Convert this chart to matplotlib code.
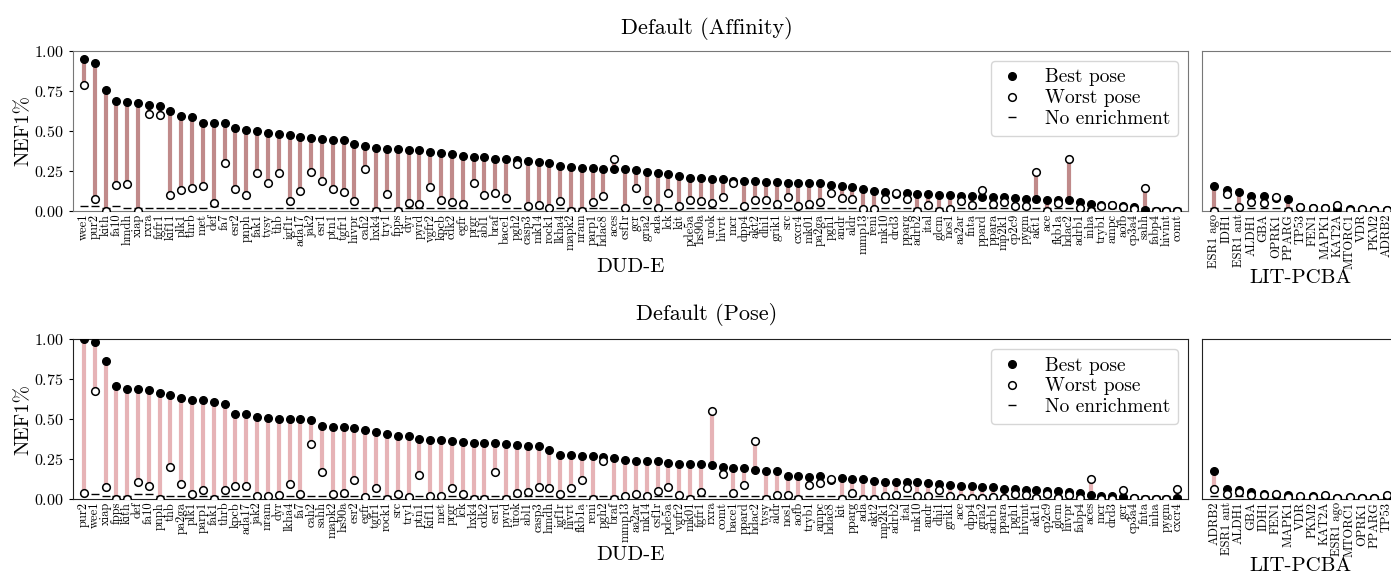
import matplotlib
matplotlib.use("Agg")
import matplotlib.pyplot as plt
from matplotlib.lines import Line2D
import numpy as np

plt.rcParams['font.family'] = 'serif'
plt.rcParams['font.serif'] = ['cmr10']
plt.rcParams['mathtext.fontset'] = 'cm'
plt.rcParams['axes.formatter.use_mathtext'] = True
plt.rcParams['axes.unicode_minus'] = False

# --- Default (Affinity) ---
aff_dude_targets = [
    "wee1", "pur2", "kith", "fa10", "hmdh", "xiap", "rxra", "fgfr1", "kif11", "plk1",
    "thrb", "met", "def", "fa7", "esr2", "pnph", "fak1", "tysy", "thb", "igf1r",
    "ada17", "jak2", "esr1", "ptn1", "tgfr1", "hivpr", "cah2", "hxk4", "try1", "fpps",
    "dyr", "pyrd", "vgfr2", "kpcb", "cdk2", "egfr", "prgr", "abl1", "braf", "bace1",
    "pgh2", "casp3", "mk14", "rock1", "lkha4", "mapk2", "nram", "parp1", "hdac8", "aces",
    "csf1r", "gcr", "gria2", "ada", "lck", "kit", "pde5a", "hs90a", "urok", "hivrt",
    "mcr", "dpp4", "akt2", "dhi1", "grik1", "src", "cxcr4", "mk01", "pa2ga", "pgh1",
    "andr", "aldr", "mmp13", "reni", "mk10", "drd3", "pparg", "adrb2", "ital", "glcm",
    "nos1", "aa2ar", "fnta", "ppard", "ppara", "mp2k1", "cp2c9", "pygm", "akt1", "ace",
    "fkb1a", "hdac2", "adrb1", "inha", "tryb1", "ampc", "aofb", "cp3a4", "sahh", "fabp4",
    "hivint", "comt"]
aff_dude_best = [
    0.952, 0.927, 0.758, 0.690, 0.683, 0.673, 0.663, 0.658, 0.627, 0.594,
    0.590, 0.552, 0.552, 0.548, 0.521, 0.506, 0.500, 0.485, 0.479, 0.477,
    0.463, 0.454, 0.452, 0.446, 0.442, 0.419, 0.408, 0.396, 0.390, 0.388,
    0.379, 0.379, 0.367, 0.363, 0.356, 0.346, 0.340, 0.340, 0.327, 0.323,
    0.319, 0.313, 0.306, 0.298, 0.281, 0.273, 0.271, 0.269, 0.265, 0.263,
    0.260, 0.256, 0.242, 0.235, 0.229, 0.217, 0.204, 0.204, 0.200, 0.198,
    0.190, 0.188, 0.185, 0.181, 0.181, 0.177, 0.175, 0.173, 0.173, 0.163,
    0.156, 0.152, 0.138, 0.127, 0.119, 0.108, 0.113, 0.108, 0.106, 0.102,
    0.098, 0.096, 0.096, 0.090, 0.088, 0.085, 0.079, 0.077, 0.073, 0.071,
    0.067, 0.067, 0.056, 0.045, 0.040, 0.035, 0.033, 0.023, 0.006, 0.0,
    0.0, 0.0]
aff_dude_worst = [
    0.790, 0.073, 0.0, 0.165, 0.169, 0.0, 0.606, 0.602, 0.100, 0.129,
    0.142, 0.158, 0.052, 0.298, 0.135, 0.098, 0.240, 0.175, 0.240, 0.063,
    0.123, 0.242, 0.185, 0.135, 0.117, 0.060, 0.260, 0.0, 0.106, 0.0,
    0.052, 0.046, 0.148, 0.069, 0.054, 0.046, 0.175, 0.102, 0.110, 0.083,
    0.294, 0.029, 0.040, 0.019, 0.065, 0.0, 0.0, 0.056, 0.096, 0.325,
    0.017, 0.146, 0.067, 0.019, 0.115, 0.029, 0.071, 0.060, 0.050, 0.085,
    0.173, 0.031, 0.071, 0.071, 0.044, 0.090, 0.029, 0.044, 0.056, 0.110,
    0.083, 0.075, 0.015, 0.015, 0.075, 0.112, 0.073, 0.0, 0.038, 0.0,
    0.015, 0.060, 0.040, 0.129, 0.046, 0.058, 0.029, 0.029, 0.246, 0.0,
    0.052, 0.325, 0.021, 0.0, 0.033, 0.035, 0.025, 0.015, 0.146, 0.0,
    0.0, 0.0]

aff_lit_targets = ["ESR1 ago", "IDH1", "ESR1 ant", "ALDH1", "GBA", "OPRK1", "PPARG", "TP53",
                   "FEN1", "MAPK1", "KAT2A", "MTORC1", "VDR", "PKM2", "ADRB2"]
aff_lit_best = [0.156, 0.129, 0.121, 0.096, 0.092, 0.080, 0.073, 0.027,
                0.020, 0.018, 0.012, 0.014, 0.008, 0.006, 0.004]
aff_lit_worst = [0.0, 0.104, 0.027, 0.056, 0.050, 0.085, 0.0, 0.027,
                 0.020, 0.020, 0.040, 0.006, 0.010, 0.008, 0.006]

# --- Default (Pose) ---
pose_dude_targets = [
    "pur2", "wee1", "xiap", "fpps", "kith", "def", "fa10", "pnph", "thb", "pa2ga",
    "plk1", "parp1", "fak1", "thrb", "kpcb", "ada17", "jak2", "nram", "dyr", "lkha4",
    "fa7", "cah2", "sahh", "mapk2", "hs90a", "esr2", "egfr", "tgfr1", "rock1", "src",
    "try1", "ptn1", "kif11", "met", "prgr", "lck", "hxk4", "cdk2", "esr1", "pyrd",
    "urok", "abl1", "casp3", "hmdh", "igf1r", "hivrt", "fkb1a", "reni", "pgh2", "braf",
    "mmp13", "aa2ar", "mk14", "csf1r", "pde5a", "vgfr2", "mk01", "fgfr1", "rxra", "comt",
    "bace1", "ppard", "hdac2", "tysy", "aldr", "nos1", "aofb", "tryb1", "ampc", "hdac8",
    "kit", "pparg", "ada", "akt2", "mp2k1", "adrb2", "ital", "mk10", "andr", "dhi1",
    "grik1", "ace", "dpp4", "gria2", "adrb1", "ppara", "pgh1", "hivint", "akt1", "cp2c9",
    "glcm", "hivpr", "fabp4", "aces", "mcr", "drd3", "gcr", "cp3a4", "fnta", "inha",
    "pygm", "cxcr4"]
pose_dude_best = [
    0.998, 0.981, 0.865, 0.705, 0.690, 0.690, 0.680, 0.661, 0.653, 0.634,
    0.622, 0.622, 0.609, 0.595, 0.532, 0.530, 0.514, 0.507, 0.499, 0.499,
    0.499, 0.493, 0.455, 0.451, 0.449, 0.443, 0.432, 0.418, 0.405, 0.395,
    0.395, 0.378, 0.372, 0.368, 0.364, 0.358, 0.353, 0.351, 0.351, 0.347,
    0.339, 0.331, 0.331, 0.304, 0.277, 0.274, 0.270, 0.266, 0.260, 0.258,
    0.245, 0.237, 0.235, 0.235, 0.227, 0.216, 0.216, 0.216, 0.210, 0.202,
    0.195, 0.191, 0.179, 0.175, 0.173, 0.146, 0.141, 0.139, 0.141, 0.122,
    0.131, 0.127, 0.127, 0.114, 0.108, 0.108, 0.104, 0.104, 0.102, 0.094,
    0.089, 0.081, 0.079, 0.077, 0.075, 0.064, 0.062, 0.058, 0.054, 0.050,
    0.050, 0.046, 0.035, 0.027, 0.021, 0.019, 0.010, 0.004, 0.002, 0.0,
    0.0, 0.006]
pose_dude_worst = [
    0.037, 0.676, 0.077, 0.0, 0.0, 0.104, 0.079, 0.0, 0.200, 0.096,
    0.029, 0.056, 0.0, 0.058, 0.079, 0.081, 0.017, 0.017, 0.025, 0.094,
    0.031, 0.341, 0.170, 0.031, 0.040, 0.116, 0.012, 0.069, 0.0, 0.029,
    0.015, 0.148, 0.017, 0.019, 0.071, 0.033, 0.0, 0.0, 0.166, 0.0,
    0.040, 0.046, 0.075, 0.071, 0.033, 0.071, 0.119, 0.0, 0.237, 0.0,
    0.017, 0.029, 0.021, 0.050, 0.075, 0.025, 0.0, 0.046, 0.549, 0.154,
    0.037, 0.087, 0.362, 0.0, 0.025, 0.027, 0.0, 0.089, 0.102, 0.125,
    0.0, 0.037, 0.0, 0.0, 0.019, 0.025, 0.071, 0.021, 0.019, 0.056,
    0.021, 0.006, 0.008, 0.008, 0.010, 0.006, 0.029, 0.023, 0.006, 0.029,
    0.006, 0.023, 0.006, 0.125, 0.0, 0.0, 0.058, 0.004, 0.002, 0.0,
    0.0, 0.060]

pose_lit_targets = ["ADRB2", "ESR1 ant", "ALDH1", "GBA", "IDH1", "FEN1", "MAPK1", "VDR",
                    "PKM2", "KAT2A", "ESR1 ago", "MTORC1", "OPRK1", "PPARG", "TP53"]
pose_lit_best = [0.177, 0.062, 0.058, 0.046, 0.029, 0.024, 0.023, 0.015,
                 0.021, 0.016, 0.004, 0.006, 0.004, 0.004, 0.010]
pose_lit_worst = [0.062, 0.029, 0.042, 0.025, 0.023, 0.029, 0.012, 0.017,
                  0.012, 0.023, 0.004, 0.010, 0.004, 0.004, 0.027]

# NEF1% of a random ranking (dash); slightly higher for a few targets
no_enrichment = 0.018
no_enrichment_high = {"pur2": 0.03, "wee1": 0.03, "fa10": 0.031, "def": 0.03}

MS = 5.5


def draw_panel(ax, targets, best, worst, seg_color):
    x = np.arange(len(targets))
    base = [no_enrichment_high.get(t, no_enrichment) for t in targets]
    ax.vlines(x, best, worst, color=seg_color, lw=3.0, zorder=1)
    ax.plot(x, base, ls='none', marker='_', color='k', ms=5.5, mew=1.0, zorder=2)
    ax.plot(x, best, ls='none', marker='o', color='k', ms=MS, zorder=3)
    ax.plot(x, worst, ls='none', marker='o', mfc='white', mec='k', mew=1.1, ms=MS, zorder=4)
    ax.set_xlim(-1, len(targets))
    ax.set_ylim(0, 1)
    ax.set_xticks(x)
    ax.set_xticklabels(targets, rotation=90, fontsize=9)
    ax.tick_params(axis='x', length=0, pad=2)
    ax.tick_params(axis='y', labelsize=11.5, length=3)
    ax.set_yticks([0, 0.25, 0.5, 0.75, 1.0])


fig = plt.figure(figsize=(13.91, 5.73), dpi=100)

rows = [
    ("Default (Affinity)", 0.6318, 0.951, '#c08a8a', '#777777',
     aff_dude_targets, aff_dude_best, aff_dude_worst,
     aff_lit_targets, aff_lit_best, aff_lit_worst),
    ("Default (Pose)", 0.1291, 0.452, '#e6b3b6', '#222222',
     pose_dude_targets, pose_dude_best, pose_dude_worst,
     pose_lit_targets, pose_lit_best, pose_lit_worst),
]

for (title, y0, ty, seg_color, spine_color, dt, db, dw, lt, lb, lw_) in rows:
    ax1 = fig.add_axes([0.0525, y0, 0.8016, 0.2792])
    ax2 = fig.add_axes([0.8641, y0, 0.1416, 0.2792])
    draw_panel(ax1, dt, db, dw, seg_color)
    draw_panel(ax2, lt, lb, lw_, seg_color)
    ax2.tick_params(axis='y', left=False, labelleft=False)
    for ax in (ax1, ax2):
        for s in ax.spines.values():
            s.set_color(spine_color)
    ax1.set_ylabel("NEF1%", fontsize=15, labelpad=1)
    ax1.set_xlabel("DUD-E", fontsize=15, labelpad=3)
    ax2.set_xlabel("LIT-PCBA", fontsize=15, labelpad=0)
    fig.text(0.508, ty, title, ha='center', va='center', fontsize=16)

    handles = [
        Line2D([], [], ls='none', marker='o', color='k', ms=MS),
        Line2D([], [], ls='none', marker='o', mfc='white', mec='k', mew=1.1, ms=MS),
        Line2D([], [], ls='none', marker='_', color='k', ms=5.5, mew=1.0),
    ]
    ax1.legend(handles, ["Best pose", "Worst pose", "No enrichment"], loc='upper right',
               fontsize=14, handlelength=1.4, handletextpad=1.0, labelspacing=0.15,
               borderpad=0.4, framealpha=0.8, edgecolor='#cccccc')

fig.savefig("out.png", dpi=100)
